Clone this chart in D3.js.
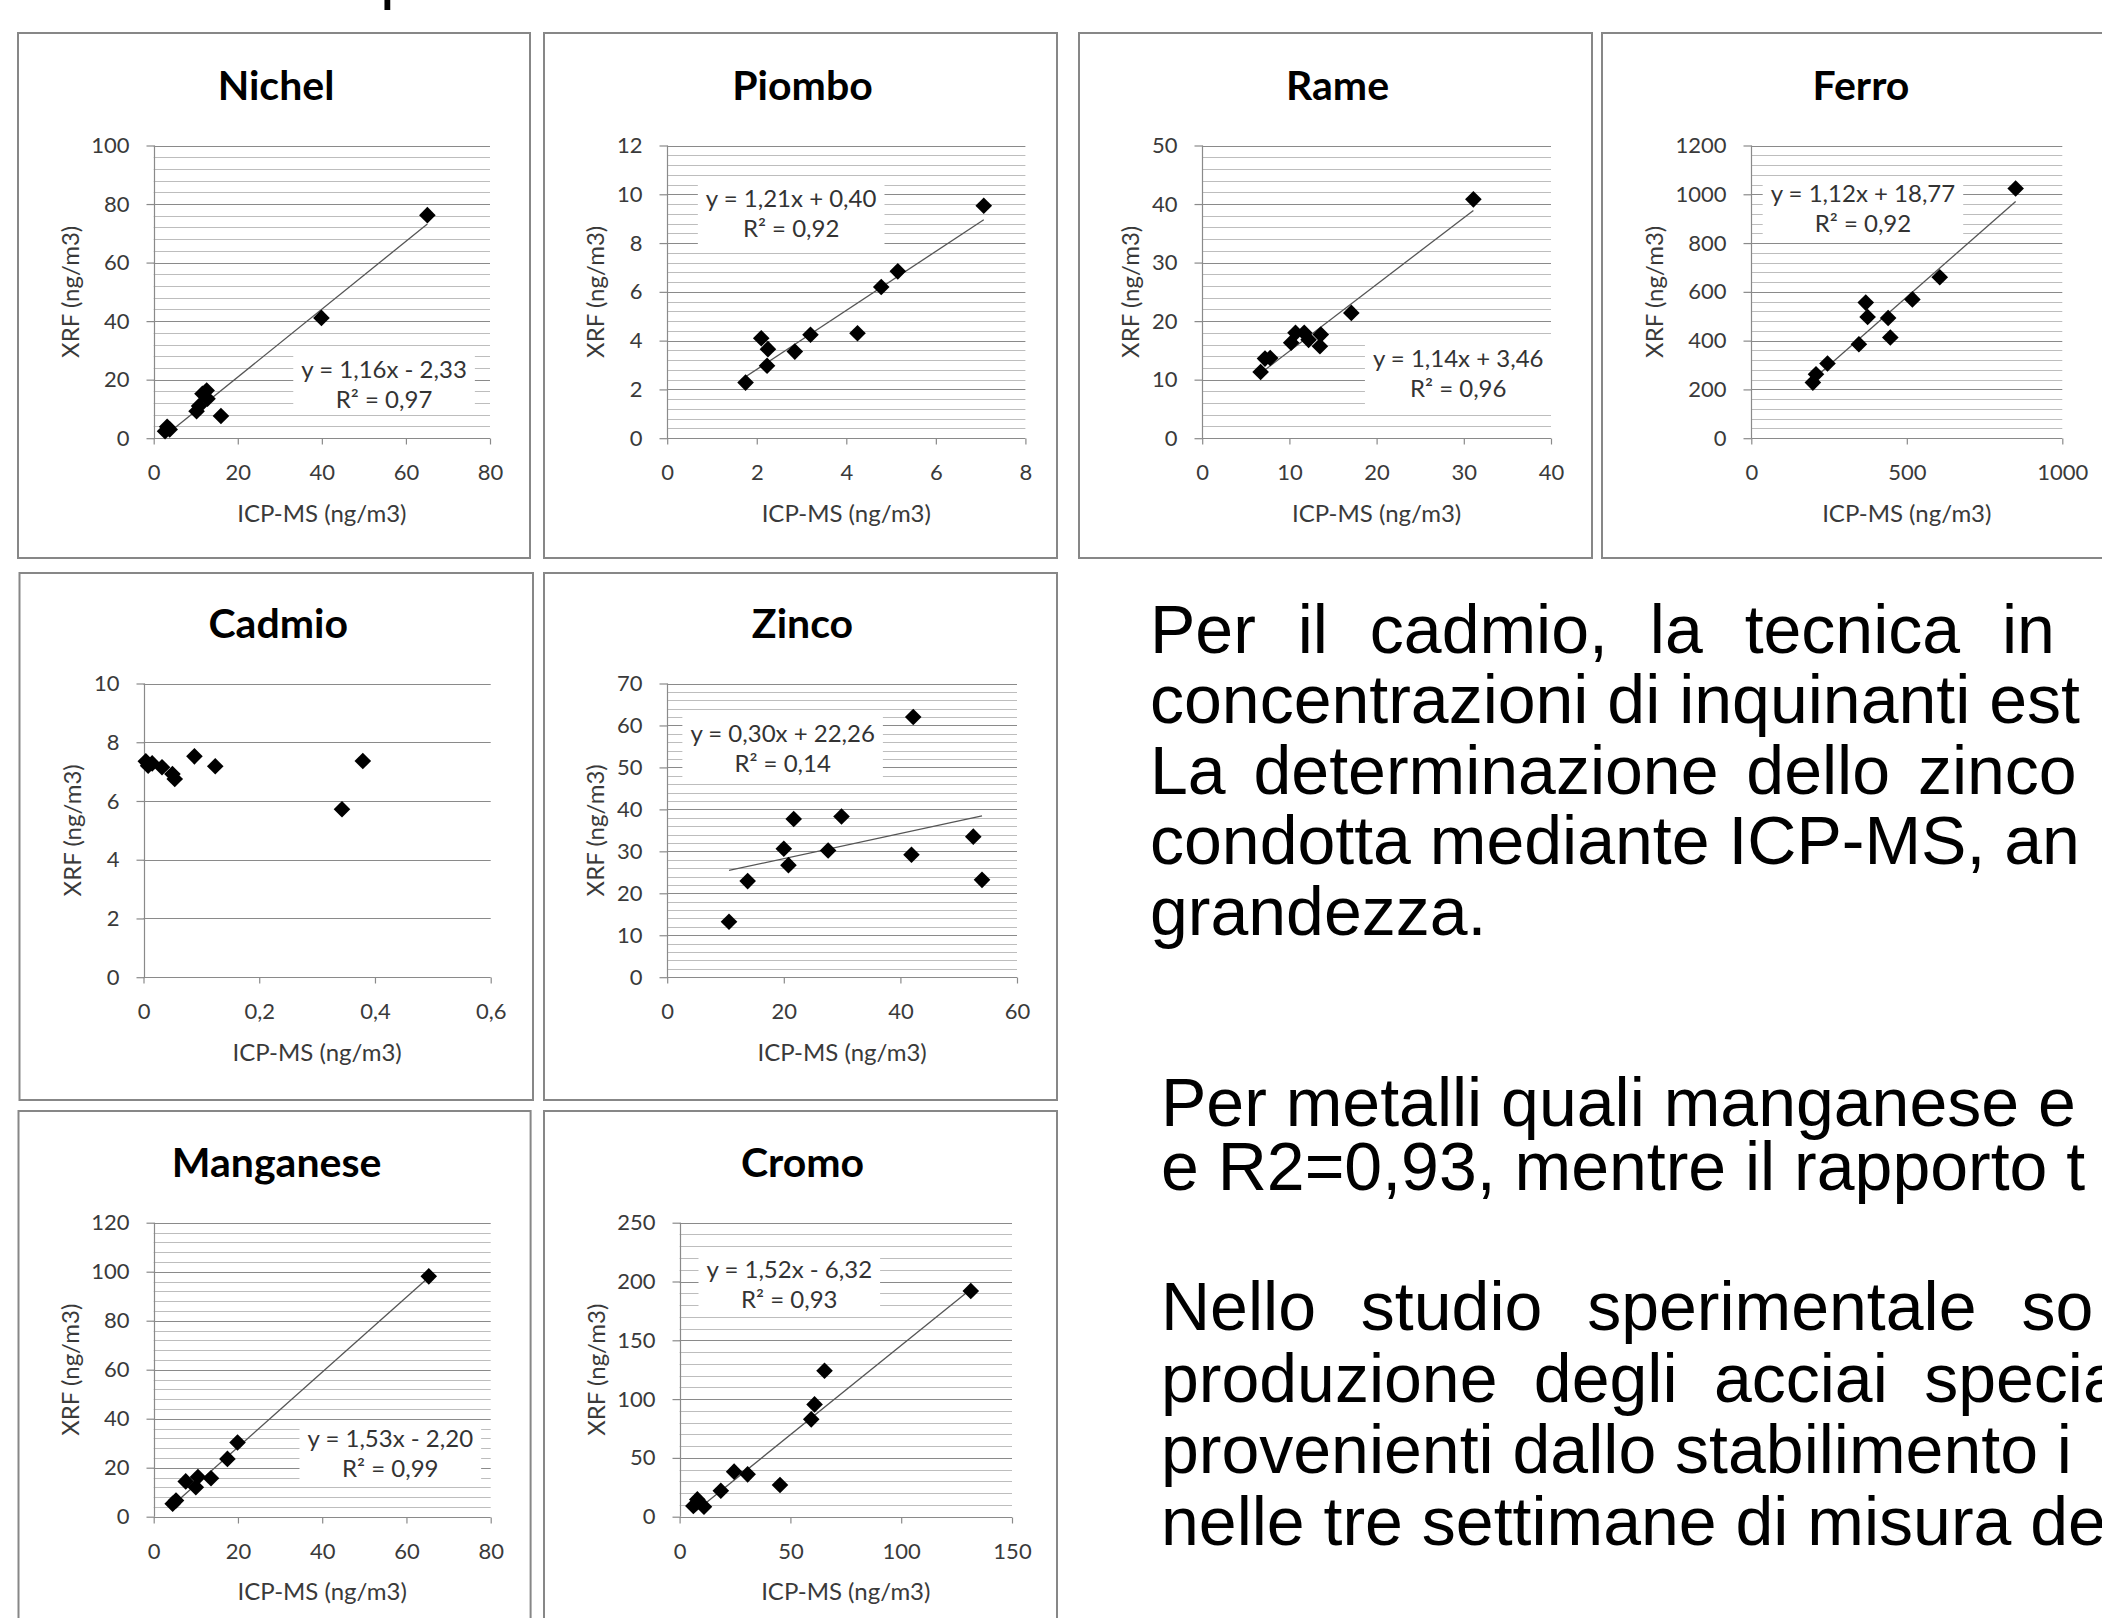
<!DOCTYPE html>
<html><head><meta charset="utf-8">
<script src="https://cdn.jsdelivr.net/npm/d3@7"></script>
<style>html,body{margin:0;padding:0;background:#fff}svg{display:block}</style>
</head><body>
<svg id="c" width="2102" height="1618"></svg>
<script>
// ---------------- DATA ----------------
const titles = ["Nichel", "Piombo", "Rame", "Ferro", "Cadmio", "Zinco", "Manganese", "Cromo"];

const nichelX = [2.7, 3.2, 3.8, 10.2, 10.8, 11.6, 12.6, 12.8, 16.0, 39.9, 65.1];
const nichelY = [2.4, 3.9, 3.0, 9.2, 11.0, 15.2, 16.3, 13.5, 7.6, 41.1, 76.2];
const piomboX = [1.75, 2.1, 2.25, 2.23, 2.85, 3.2, 4.25, 4.78, 5.15, 7.07];
const piomboY = [2.28, 4.1, 3.65, 2.97, 3.55, 4.24, 4.3, 6.2, 6.84, 9.53];
const rameX = [6.7, 7.2, 7.8, 10.2, 10.7, 11.7, 12.2, 13.6, 13.5, 17.1, 31.1];
const rameY = [11.3, 13.6, 13.7, 16.3, 18.0, 18.0, 16.8, 17.7, 15.7, 21.4, 40.8];
const ferroX = [198, 208, 245, 346, 368, 374, 440, 447, 518, 606, 850];
const ferroY = [228, 262, 306, 385, 556, 497, 493, 413, 569, 660, 1024];
const cadmioX = [0.004, 0.008, 0.015, 0.032, 0.05, 0.054, 0.088, 0.124, 0.343, 0.379];
const cadmioY = [7.35, 7.2, 7.28, 7.15, 6.92, 6.75, 7.52, 7.18, 5.72, 7.36];
const zincoX = [10.6, 13.8, 20.0, 20.8, 21.7, 27.6, 29.9, 41.9, 42.2, 52.5, 54.0];
const zincoY = [13.2, 22.9, 30.6, 26.7, 37.7, 30.2, 38.3, 29.2, 62.0, 33.5, 23.2];
const manganeseX = [4.5, 5.3, 7.6, 10.0, 10.5, 13.6, 17.5, 19.9, 65.3];
const manganeseY = [5.3, 6.6, 14.4, 12.0, 16.2, 15.7, 23.6, 30.3, 98.1];
const cromoX = [6.2, 8.0, 11.0, 18.6, 24.6, 30.7, 45.3, 59.4, 60.9, 65.4, 131.4];
const cromoY = [9.1, 14.7, 8.5, 22.1, 38.3, 36.0, 26.9, 82.8, 95.5, 124.1, 191.9];

const nichelXTicks = [0, 20, 40, 60, 80];
const nichelYTicks = [0, 20, 40, 60, 80, 100];
const piomboXTicks = [0, 2, 4, 6, 8];
const piomboYTicks = [0, 2, 4, 6, 8, 10, 12];
const rameXTicks = [0, 10, 20, 30, 40];
const rameYTicks = [0, 10, 20, 30, 40, 50];
const ferroXTicks = [0, 500, 1000];
const ferroYTicks = [0, 200, 400, 600, 800, 1000, 1200];
const cadmioXTicks = [0, 0.2, 0.4, 0.6];
const cadmioYTicks = [0, 2, 4, 6, 8, 10];
const zincoXTicks = [0, 20, 40, 60];
const zincoYTicks = [0, 10, 20, 30, 40, 50, 60, 70];
const manganeseXTicks = [0, 20, 40, 60, 80];
const manganeseYTicks = [0, 20, 40, 60, 80, 100, 120];
const cromoXTicks = [0, 50, 100, 150];
const cromoYTicks = [0, 50, 100, 150, 200, 250];

const minorSteps = [4, 0.4, 2, 40, null, 2, 4, 10];

const trendSlope = [1.16, 1.21, 1.14, 1.12, null, 0.30, 1.53, 1.52];
const trendIntercept = [-2.33, 0.40, 3.46, 18.77, null, 22.26, -2.20, -6.32];
const eqLabels = ["y = 1,16x - 2,33", "y = 1,21x + 0,40", "y = 1,14x + 3,46", "y = 1,12x + 18,77", null, "y = 0,30x + 22,26", "y = 1,53x - 2,20", "y = 1,52x - 6,32"];
const r2Labels = ["R² = 0,97", "R² = 0,92", "R² = 0,96", "R² = 0,92", null, "R² = 0,14", "R² = 0,99", "R² = 0,93"];

const xAxisTitle = "ICP-MS (ng/m3)";
const yAxisTitle = "XRF (ng/m3)";

const para1 = ["Per il cadmio, la tecnica in", "concentrazioni di inquinanti est", "La determinazione dello zinco", "condotta mediante ICP-MS, an", "grandezza."];
const para2 = ["Per metalli quali manganese e", "e R2=0,93, mentre il rapporto t"];
const para3 = ["Nello studio sperimentale so", "produzione degli acciai specia", "provenienti dallo stabilimento i", "nelle tre settimane di misura de"];

// ---------------- LAYOUT (positions only) ----------------
const layout = [
  {box: [18, 33, 530, 558],     plot: [153.7, 490, 145.5, 438.2],    lab: [0.685, 0.765]},
  {box: [544, 33, 1057, 558],   plot: [667.2, 1025.4, 145.5, 438.2], lab: [0.346, 0.182]},
  {box: [1079, 33, 1592, 558],  plot: [1202.2, 1551, 145.5, 438.2],  lab: [0.734, 0.729]},
  {box: [1602, 33, 2116, 558],  plot: [1751.3, 2062.3, 145.5, 438.2],lab: [0.359, 0.165]},
  {box: [19.5, 573, 533, 1100], plot: [143.5, 490.7, 683.5, 977.2],  lab: null},
  {box: [544, 573, 1057, 1100], plot: [667.2, 1017, 683.5, 977.2],   lab: [0.33, 0.17]},
  {box: [18.5, 1111, 530.6, 1640], plot: [153.7, 490.7, 1222.7, 1516.7], lab: [0.702, 0.734]},
  {box: [544, 1111, 1057, 1640],   plot: [679.6, 1012, 1222.7, 1516.7],  lab: [0.33, 0.161]}
];

const seriesX = [nichelX, piomboX, rameX, ferroX, cadmioX, zincoX, manganeseX, cromoX];
const seriesY = [nichelY, piomboY, rameY, ferroY, cadmioY, zincoY, manganeseY, cromoY];
const xTicksAll = [nichelXTicks, piomboXTicks, rameXTicks, ferroXTicks, cadmioXTicks, zincoXTicks, manganeseXTicks, cromoXTicks];
const yTicksAll = [nichelYTicks, piomboYTicks, rameYTicks, ferroYTicks, cadmioYTicks, zincoYTicks, manganeseYTicks, cromoYTicks];

// ---------------- DRAW ----------------
const svg = d3.select("#c");
svg.append("rect").attr("width", 2102).attr("height", 1618).attr("fill", "#fff");

// descender of a cut-off heading at the very top
svg.append("text").attr("x", 380).attr("y", -4)
  .attr("font-family", "'Liberation Sans', Arial, sans-serif").attr("font-size", 66).attr("fill", "#000").text("p");

const FONT = "Lato, 'Open Sans', sans-serif";
const fmt = d => String(d).replace(".", ",");
const GRID_MAJOR = "#8a8a8a", GRID_MINOR = "#bdbdbd";

const diamond = {
  draw(ctx, size) {
    const r = Math.sqrt(size / 2);
    ctx.moveTo(0, -r); ctx.lineTo(r, 0); ctx.lineTo(0, r); ctx.lineTo(-r, 0); ctx.closePath();
  }
};

titles.forEach((name, i) => {
  const L = layout[i];
  const [pl, pr, pt, pb] = L.plot;
  const xT = xTicksAll[i], yT = yTicksAll[i];
  const g = svg.append("g");

  g.append("rect")
    .attr("x", L.box[0]).attr("y", L.box[1])
    .attr("width", L.box[2] - L.box[0]).attr("height", L.box[3] - L.box[1])
    .attr("fill", "#fff").attr("stroke", "#878787").attr("stroke-width", 2);

  const x = d3.scaleLinear().domain([xT[0], xT[xT.length - 1]]).range([pl, pr]);
  const y = d3.scaleLinear().domain([yT[0], yT[yT.length - 1]]).range([pb, pt]);

  // minor gridlines
  const ms = minorSteps[i];
  if (ms) {
    const n = Math.round((y.domain()[1] - y.domain()[0]) / ms);
    const vals = d3.range(0, n + 1).map(k => y.domain()[0] + k * ms)
      .filter(v => !yT.some(t => Math.abs(t - v) < 1e-6));
    g.selectAll(".minor").data(vals).join("line")
      .attr("x1", pl).attr("x2", pr)
      .attr("y1", d => Math.round(y(d)) + 0.5).attr("y2", d => Math.round(y(d)) + 0.5)
      .attr("stroke", GRID_MINOR).attr("stroke-width", 1);
  }
  // major gridlines
  g.selectAll(".major").data(yT).join("line")
    .attr("x1", pl).attr("x2", pr)
    .attr("y1", d => Math.round(y(d)) + 0.5).attr("y2", d => Math.round(y(d)) + 0.5)
    .attr("stroke", GRID_MAJOR).attr("stroke-width", 1.2);

  // y axis line
  g.append("line").attr("x1", Math.round(pl) + 0.5).attr("x2", Math.round(pl) + 0.5)
    .attr("y1", pt).attr("y2", pb).attr("stroke", GRID_MAJOR).attr("stroke-width", 1.2);

  // y axis ticks + labels
  const ya = g.append("g").attr("transform", `translate(${Math.round(pl) + 0.5},0)`)
    .call(d3.axisLeft(y).tickValues(yT).tickFormat(fmt).tickSize(8).tickPadding(17));
  ya.select(".domain").remove();
  ya.selectAll(".tick line").attr("stroke", GRID_MAJOR).attr("stroke-width", 1.2);
  ya.selectAll(".tick text").attr("font-family", FONT).attr("font-size", 22).attr("fill", "#3a3a3a");

  // x axis ticks + labels
  const xa = g.append("g").attr("transform", `translate(0,${Math.round(pb) + 0.5})`)
    .call(d3.axisBottom(x).tickValues(xT).tickFormat(fmt).tickSize(6).tickPadding(20));
  xa.select(".domain").remove();
  xa.selectAll(".tick line").attr("stroke", GRID_MAJOR).attr("stroke-width", 1.2);
  xa.selectAll(".tick text").attr("font-family", FONT).attr("font-size", 22).attr("fill", "#3a3a3a");

  // trendline
  if (trendSlope[i] !== null) {
    const xs = seriesX[i];
    const x0 = d3.min(xs), x1 = d3.max(xs);
    const pts = [x0, x1].map(v => [v, trendSlope[i] * v + trendIntercept[i]]);
    g.append("path").datum(pts)
      .attr("d", d3.line().x(d => x(d[0])).y(d => y(d[1])))
      .attr("fill", "none").attr("stroke", "#555").attr("stroke-width", 1.3);
  }

  // markers
  const pts = seriesX[i].map((v, k) => [v, seriesY[i][k]]);
  g.selectAll(".pt").data(pts).join("path")
    .attr("transform", d => `translate(${x(d[0])},${y(d[1])})`)
    .attr("d", d3.symbol().type(diamond).size(2 * 8.3 * 8.3))
    .attr("fill", "#000");

  // regression label
  if (eqLabels[i] && L.lab) {
    const cx = pl + L.lab[0] * (pr - pl);
    const cy = pt + L.lab[1] * (pb - pt);
    const lg = g.append("g");
    const bg = lg.append("rect").attr("fill", "#fff");
    const t1 = lg.append("text").attr("x", cx).attr("y", cy).attr("dy", "0.35em")
      .attr("text-anchor", "middle").attr("font-family", FONT).attr("font-size", 24).attr("fill", "#333").text(eqLabels[i]);
    const t2 = lg.append("text").attr("x", cx).attr("y", cy + 30).attr("dy", "0.35em")
      .attr("text-anchor", "middle").attr("font-family", FONT).attr("font-size", 24).attr("fill", "#333").text(r2Labels[i]);
    const b1 = t1.node().getBBox(), b2 = t2.node().getBBox();
    const bx0 = Math.min(b1.x, b2.x) - 8, bx1 = Math.max(b1.x + b1.width, b2.x + b2.width) + 8;
    const by0 = b1.y - 2, by1 = b2.y + b2.height + 2;
    bg.attr("x", bx0).attr("y", by0).attr("width", bx1 - bx0).attr("height", by1 - by0);
  }

  // chart title
  g.append("text").attr("x", (L.box[0] + Math.min(L.box[2], 2116)) / 2 + 2).attr("y", pt - 60).attr("dy", "0.36em")
    .attr("text-anchor", "middle").attr("font-family", FONT).attr("font-weight", 700)
    .attr("font-size", 41).attr("fill", "#000").text(name);

  // x axis title
  g.append("text").attr("x", (pl + pr) / 2).attr("y", pb + 75).attr("dy", "0.35em")
    .attr("text-anchor", "middle").attr("font-family", FONT).attr("font-size", 24).attr("fill", "#3a3a3a").text(xAxisTitle);

  // y axis title, left of the widest tick label
  let minLeft = Infinity;
  ya.selectAll(".tick text").each(function () {
    const bb = this.getBBox();
    const ctm = this.getCTM();
    minLeft = Math.min(minLeft, bb.x + ctm.e);
  });
  const tx = minLeft - 21;
  g.append("text").attr("transform", `translate(${tx},${(pt + pb) / 2}) rotate(-90)`).attr("dy", "0.35em")
    .attr("text-anchor", "middle").attr("font-family", FONT).attr("font-size", 24).attr("fill", "#3a3a3a").text(yAxisTitle);
});

// ---------------- RIGHT-HAND TEXT ----------------
const TXT = "'Liberation Sans', Arial, Helvetica, sans-serif";
function para(lines, x0, baselines, spacing) {
  lines.forEach((s, k) => {
    svg.append("text").attr("x", x0).attr("y", baselines[k])
      .attr("font-family", TXT).attr("font-size", 68).attr("fill", "#000")
      .style("word-spacing", (spacing[k] || 0) + "px")
      .style("white-space", "pre")
      .text(s);
  });
}
para(para1, 1150, [653, 723, 794, 864, 935], [23, 0, 9, 0, 0]);
para(para2, 1161, [1126, 1190], [0, 0]);
para(para3, 1161, [1330, 1402, 1473, 1545], [26, 17.5, 0, 0]);
</script>
</body></html>
